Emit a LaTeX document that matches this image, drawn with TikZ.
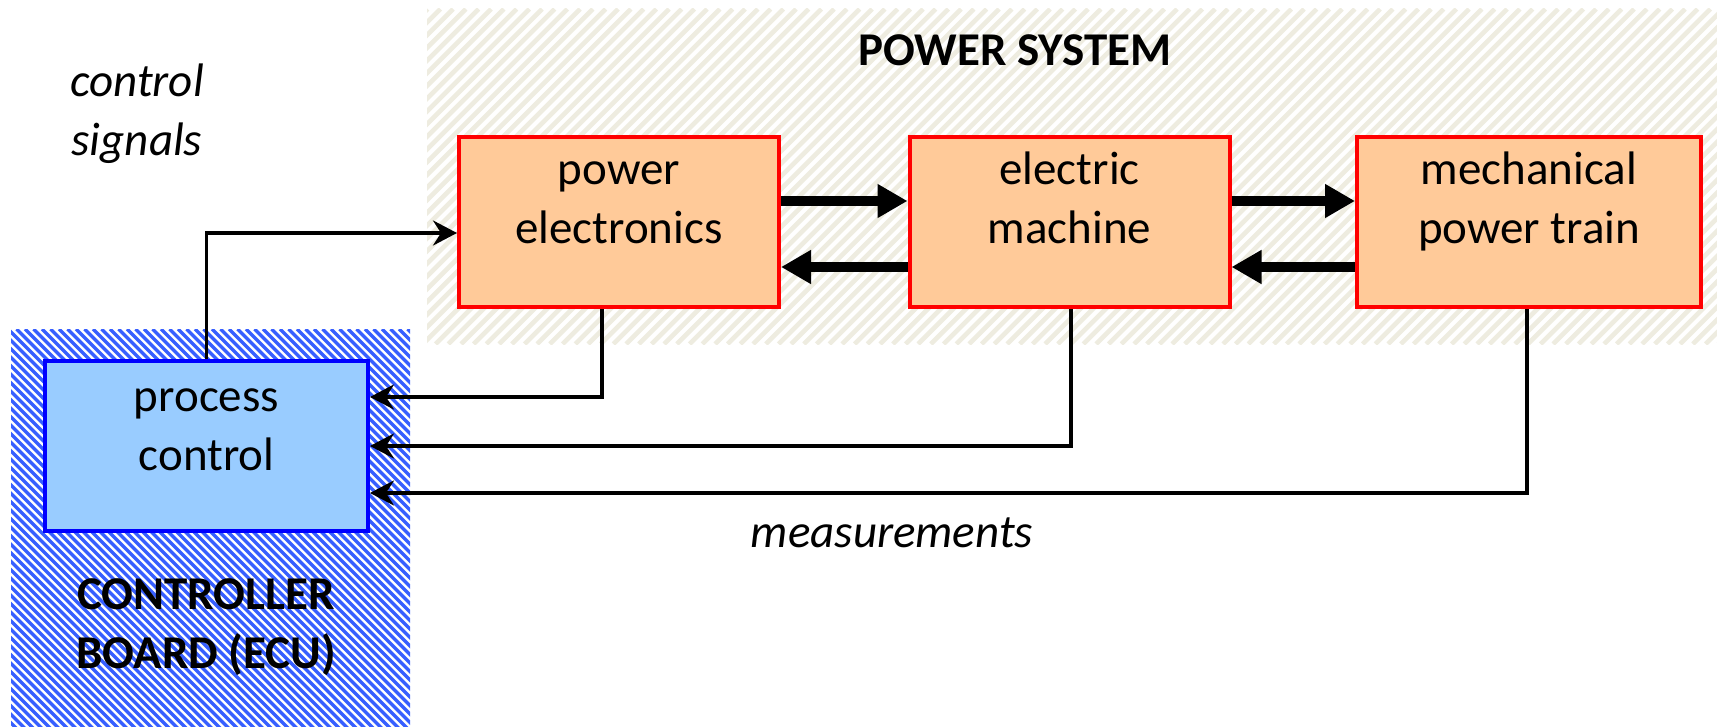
\documentclass[tikz,border=0pt]{standalone}
\usepackage{fontspec}
\setmainfont{Carlito}
\usetikzlibrary{arrows.meta}
\definecolor{peach}{RGB}{255,202,153}
\definecolor{boxred}{RGB}{255,0,0}
\definecolor{lightblue}{RGB}{153,204,255}
\definecolor{boxblue}{RGB}{0,0,255}
\definecolor{hatchblue}{RGB}{55,95,255}
\definecolor{hatchbeige}{RGB}{238,236,224}
\newcommand\bigfont{\fontsize{23.5pt}{29.5pt}\selectfont}
\begin{document}
\begin{tikzpicture}[x=0.5pt,y=-0.5pt,
  txt/.style={font=\bigfont, align=center, inner sep=0pt},
  itxt/.style={font=\bigfont\itshape, align=center, inner sep=0pt},
  btxt/.style={font=\bigfont\bfseries, align=center, inner sep=0pt},
  peachbox/.style={draw=boxred, fill=peach, line width=2pt, minimum width=160pt, minimum height=85pt, inner sep=0pt},
  bluebox/.style={draw=boxblue, fill=lightblue, line width=2pt, minimum width=161.5pt, minimum height=85pt, inner sep=0pt},
  bigarrow/.style={line width=5pt, -{Triangle[length=15pt,width=16pt]}},
  thinarrow/.style={line width=1.8pt, -{Stealth[length=12pt,width=12.5pt,inset=4pt]}}
]
\useasboundingbox (0,0) rectangle (1717,727);
% power system background
\begin{scope}
  \clip (427,9) rectangle (1717,344);
  \fill[white] (427,9) rectangle (1717,344);
  \foreach \x in {80,92.7,...,1730} {
    \draw[hatchbeige, line width=2.3pt] (\x,344) -- (\x+335,9);
  }
\end{scope}
% controller board background
\begin{scope}
  \clip (11,329) rectangle (410,727);
  \fill[white] (11,329) rectangle (410,727);
  \foreach \x in {-400,-391.5,...,420} {
    \draw[hatchblue, line width=1.75pt] (\x,329) -- (\x+400,729);
  }
\end{scope}
% titles
\node[btxt, anchor=base] (pstitle) at (1015,66) {POWER SYSTEM};
\node[btxt] (cbtitle) at (206,627) {\strut CONTROLLER\\\strut BOARD (ECU)};
\node[itxt] (cs) at (137,114) {\strut control\\\strut signals};
\node[itxt, anchor=base] (meas) at (892,547) {measurements};
% boxes
\node[peachbox] (pe) at (619,222) {};
\node[peachbox] (em) at (1069.5,222) {};
\node[peachbox, minimum width=172pt] (mp) at (1529,222) {};
\node[bluebox] (pc) at (206.5,446) {};
\node[txt] (pet) at ([yshift=10pt]pe.center) {\strut power\\\strut electronics};
\node[txt] (emt) at ([yshift=10pt]em.center) {\strut electric\\\strut machine};
\node[txt] (mpt) at ([yshift=10pt]mp.center) {\strut mechanical\\\strut power train};
\node[txt] (pct) at ([yshift=8.5pt]pc.center) {\strut process\\\strut control};
% power flow arrows
\draw[bigarrow] ([yshift=10.5pt]pe.east) -- ([yshift=10.5pt]em.west);
\draw[bigarrow] ([yshift=-22.5pt]em.west) -- ([yshift=-22.5pt]pe.east);
\draw[bigarrow] ([yshift=10.5pt]em.east) -- ([yshift=10.5pt]mp.west);
\draw[bigarrow] ([yshift=-22.5pt]mp.west) -- ([yshift=-22.5pt]em.east);
% control signal
\draw[thinarrow] (pc.north) |- ([yshift=-5.5pt]pe.west);
% measurements
\draw[thinarrow] ([xshift=-8.5pt]pe.south) |- ([yshift=24.5pt]pc.east);
\draw[thinarrow] ([xshift=0.75pt]em.south) |- (pc.east);
\draw[thinarrow] ([xshift=-1pt]mp.south) |- ([yshift=-23.5pt]pc.east);
\end{tikzpicture}
\end{document}
